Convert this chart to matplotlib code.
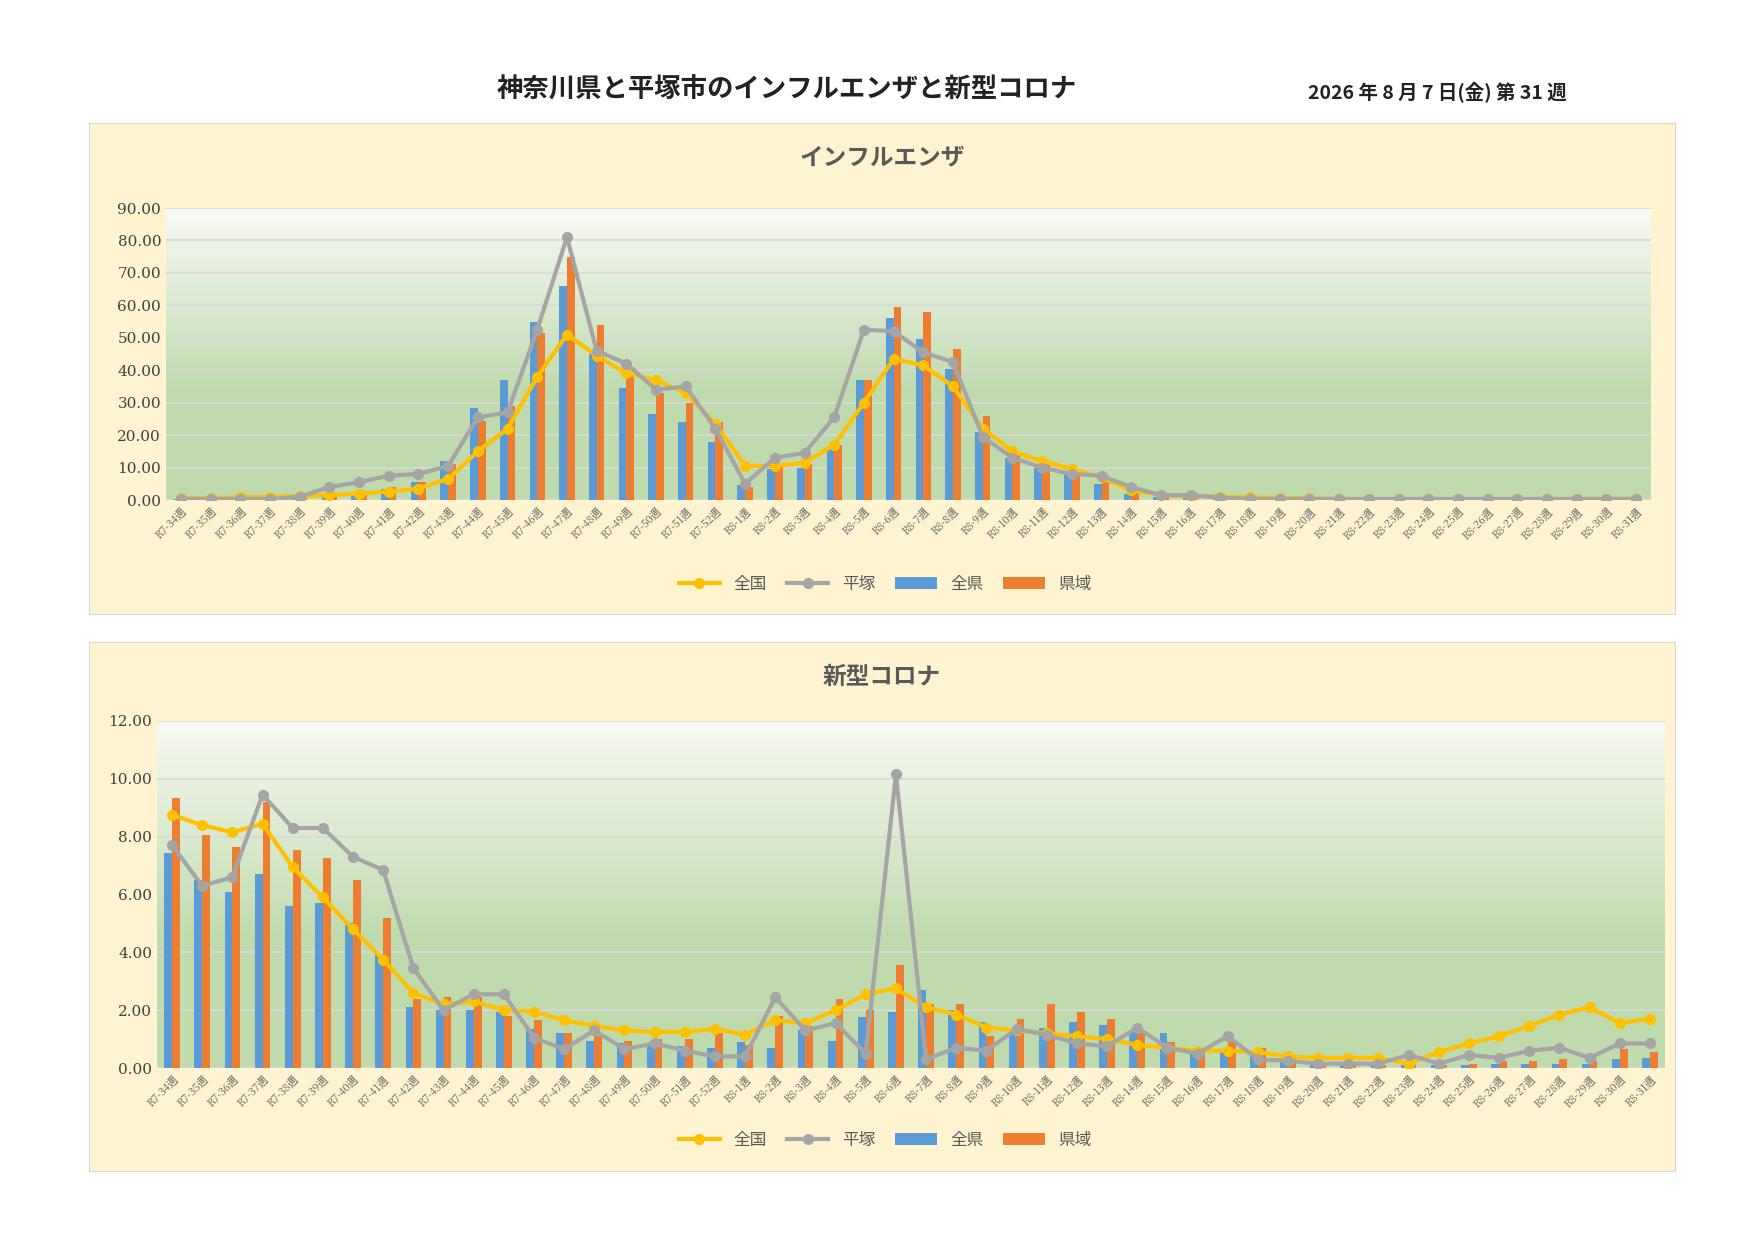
import matplotlib
matplotlib.use("Agg")
import matplotlib.pyplot as plt
import numpy as np
from matplotlib.patches import Rectangle

plt.rcParams["font.family"] = ["Noto Sans CJK JP", "DejaVu Sans"]

weeks = [f"R7-{w}週" for w in range(34, 53)] + [f"R8-{w}週" for w in range(1, 32)]

# インフルエンザ
flu_ken = [0.3, 0.4, 0.5, 0.7, 1.0, 1.5, 2.0, 3.5, 5.5, 12.0,
           28.5, 37.0, 55.0, 66.0, 45.0, 34.5, 26.5, 24.0, 18.0, 4.5,
           9.5, 10.0, 16.0, 37.0, 56.0, 49.5, 40.5, 21.0, 13.0, 10.0,
           8.0, 5.0, 2.0, 1.0, 0.6, 0.4, 0.3, 0.2, 0.2, 0.1,
           0.1, 0.1, 0.1, 0.1, 0.1, 0.1, 0.1, 0.1, 0.1, 0.1]
flu_area = [0.3, 0.4, 0.5, 0.7, 1.0, 1.5, 2.5, 4.0, 5.5, 11.0,
            24.5, 29.0, 51.5, 75.0, 54.0, 38.5, 33.0, 30.0, 24.0, 4.0,
            10.5, 11.0, 17.0, 37.0, 59.5, 58.0, 46.5, 26.0, 14.0, 11.0,
            8.5, 6.0, 2.5, 1.2, 0.7, 0.5, 0.3, 0.2, 0.2, 0.1,
            0.1, 0.1, 0.1, 0.1, 0.1, 0.1, 0.1, 0.2, 0.2, 0.1]
flu_nat = [0.5, 0.6, 0.8, 1.0, 1.2, 1.5, 2.0, 2.6, 3.5, 6.5,
           15.0, 22.0, 38.0, 51.0, 44.5, 39.0, 37.0, 33.0, 23.5, 10.5,
           10.5, 11.5, 17.0, 30.0, 43.5, 41.5, 35.0, 22.0, 15.0, 12.0,
           9.5, 7.0, 3.0, 1.5, 1.2, 1.0, 0.8, 0.6, 0.5, 0.4,
           0.3, 0.3, 0.3, 0.3, 0.3, 0.3, 0.3, 0.4, 0.4, 0.4]
flu_hira = [0.3, 0.3, 0.3, 0.3, 1.0, 4.0, 5.5, 7.5, 8.0, 10.5,
            25.5, 27.0, 52.5, 81.0, 46.0, 42.0, 34.0, 35.0, 22.0, 5.0,
            13.0, 14.5, 25.5, 52.5, 52.0, 45.5, 42.5, 19.5, 13.0, 10.0,
            8.0, 7.5, 4.0, 1.5, 1.5, 0.7, 0.3, 0.3, 0.3, 0.3,
            0.3, 0.3, 0.3, 0.3, 0.3, 0.3, 0.3, 0.3, 0.3, 0.3]

# 新型コロナ
cov_ken = [7.45, 6.5, 6.1, 6.7, 5.6, 5.7, 5.0, 3.9, 2.1, 2.0,
           2.0, 1.95, 1.35, 1.2, 0.95, 0.85, 0.8, 0.75, 0.7, 0.9,
           0.7, 1.3, 0.95, 1.75, 1.95, 2.7, 2.0, 1.6, 1.2, 1.4,
           1.6, 1.5, 1.3, 1.2, 0.7, 0.6, 0.5, 0.3, 0.2, 0.15,
           0.1, 0.1, 0.1, 0.1, 0.15, 0.15, 0.15, 0.15, 0.3, 0.35]
cov_area = [9.35, 8.05, 7.65, 9.2, 7.55, 7.25, 6.5, 5.2, 2.4, 2.45,
            2.45, 1.8, 1.65, 1.2, 1.1, 0.95, 1.0, 1.0, 1.2, 0.8,
            1.8, 1.45, 2.4, 2.0, 3.55, 2.2, 2.2, 1.1, 1.7, 2.2,
            1.95, 1.7, 1.3, 0.9, 0.7, 0.9, 0.7, 0.3, 0.2, 0.1,
            0.1, 0.1, 0.1, 0.15, 0.25, 0.25, 0.3, 0.25, 0.65, 0.55]
cov_nat = [8.75, 8.4, 8.15, 8.45, 6.95, 5.9, 4.8, 3.75, 2.6, 2.2,
           2.3, 2.0, 1.95, 1.65, 1.45, 1.3, 1.25, 1.25, 1.35, 1.15,
           1.65, 1.55, 2.0, 2.55, 2.75, 2.1, 1.85, 1.4, 1.3, 1.2,
           1.1, 1.0, 0.8, 0.7, 0.6, 0.6, 0.55, 0.4, 0.35, 0.35,
           0.35, 0.15, 0.55, 0.85, 1.1, 1.45, 1.85, 2.1, 1.55, 1.7]
cov_hira = [7.7, 6.3, 6.6, 9.45, 8.3, 8.3, 7.3, 6.85, 3.45, 2.0,
            2.55, 2.55, 1.05, 0.65, 1.3, 0.65, 0.85, 0.6, 0.4, 0.4,
            2.45, 1.3, 1.55, 0.5, 10.15, 0.3, 0.7, 0.6, 1.35, 1.15,
            0.85, 0.75, 1.4, 0.7, 0.5, 1.1, 0.3, 0.25, 0.15, 0.15,
            0.15, 0.45, 0.15, 0.45, 0.35, 0.6, 0.7, 0.35, 0.85, 0.85]

BLUE, ORANGE, YELLOW, GRAY = "#5b9bd5", "#ed7d31", "#ffc000", "#a5a5a5"
PANEL = "#fff4cf"

W, H = 1754, 1240
fig = plt.figure(figsize=(W / 100, H / 100), dpi=100)
fig.patch.set_facecolor("white")


def fr(x0, y0, x1, y1):
    return [x0 / W, 1 - y1 / H, (x1 - x0) / W, (y1 - y0) / H]


fig.text(787 / W, 1 - 90 / H, "神奈川県と平塚市のインフルエンザと新型コロナ",
         ha="center", va="center", fontsize=19, fontweight="bold", color="#222222")
fig.text(1437 / W, 1 - 92 / H, "2026 年 8 月 7 日(金) 第 31 週",
         ha="center", va="center", fontsize=14, fontweight="bold", color="#222222")

grad = np.linspace(0, 1, 256)
cmap_vals = np.clip(grad * 1.6, 0, 1)
top = np.array([0.975, 0.98, 0.96])
bot = np.array([0.75, 0.86, 0.68])
img = (top[None, :] * (1 - cmap_vals[:, None]) + bot[None, :] * cmap_vals[:, None])[:, None, :]


def panel(box, area, title, title_y, ken, area_v, nat, hira, ymax, ystep, leg_y):
    pax = fig.add_axes(fr(*box))
    pax.set_facecolor(PANEL)
    pax.set_xticks([]); pax.set_yticks([])
    for s in pax.spines.values():
        s.set_color("#d9d9d9")
    fig.text((box[0] + box[2]) / 2 / W, 1 - title_y / H, title, ha="center", va="center",
             fontsize=17, fontweight="bold", color="#595959")

    ax = fig.add_axes(fr(*area))
    x = np.arange(len(weeks))
    ax.set_xlim(-0.5, len(weeks) - 0.5)
    ax.set_ylim(0, ymax)
    ax.imshow(img, aspect="auto", extent=(-0.5, len(weeks) - 0.5, 0, ymax), zorder=0)
    ax.set_facecolor("none")
    ax.patch.set_alpha(0)
    for s in ax.spines.values():
        s.set_visible(False)
    ax.set_yticks(np.arange(0, ymax + 0.01, ystep))
    ax.set_yticklabels([f"{v:.2f}" for v in np.arange(0, ymax + 0.01, ystep)],
                       family="DejaVu Serif", fontsize=11, color="#404040")
    ax.grid(axis="y", color="#d9d9d9", lw=1.2, zorder=1)
    ax.tick_params(length=0)
    bw = 0.26
    ax.bar(x - bw / 2, ken, bw, color=BLUE, zorder=2, label="全県")
    ax.bar(x + bw / 2, area_v, bw, color=ORANGE, zorder=2, label="県域")
    ax.plot(x, nat, color=YELLOW, lw=3, marker="o", ms=7, zorder=3, label="全国")
    ax.plot(x, hira, color=GRAY, lw=3, marker="o", ms=7, zorder=4, label="平塚")
    ax.set_xticks(x)
    ax.set_xticklabels(weeks, rotation=45, ha="right", rotation_mode="anchor",
                       fontsize=7.5, color="#595959", family=["Noto Serif CJK JP", "Noto Sans CJK JP", "DejaVu Serif"])
    ax.tick_params(axis="x", pad=4)
    h, l = ax.get_legend_handles_labels()
    fig.legend(h, l, loc="center", bbox_to_anchor=(885 / W, 1 - leg_y / H), ncol=4,
               frameon=False, fontsize=12, handlelength=2.5, columnspacing=1.2,
               labelcolor="#595959")


panel((89, 123, 1675, 614), (166, 208, 1651, 500), "インフルエンザ", 157,
      flu_ken, flu_area, flu_nat, flu_hira, 90, 10, 584)
panel((89, 642, 1675, 1171), (157, 721, 1665, 1068), "新型コロナ", 677,
      cov_ken, cov_area, cov_nat, cov_hira, 12, 2, 1140)

fig.savefig("out.png", dpi=100)
